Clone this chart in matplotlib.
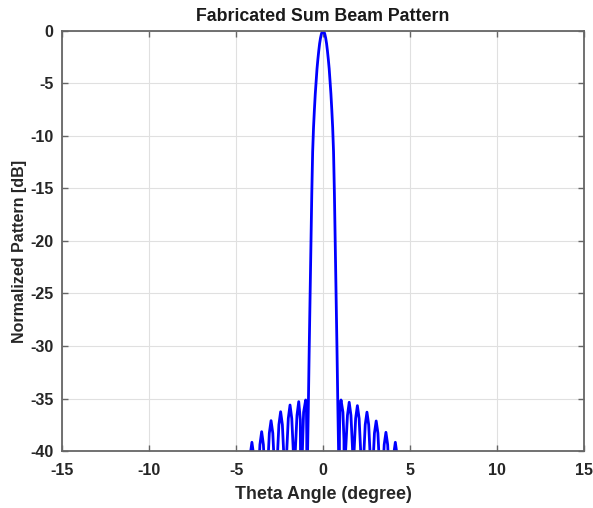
import matplotlib
matplotlib.use('Agg')
import matplotlib.pyplot as plt

# curve (degrees, dB); nulls drop below the -40 floor
theta = [-15.0, -4.36,
         -4.29, -4.19, -4.09, -3.99, -3.89, -3.81,
         -3.73, -3.63, -3.53, -3.43, -3.33, -3.26,
         -3.19, -3.09, -2.99, -2.89, -2.79, -2.71,
         -2.64, -2.54, -2.44, -2.34, -2.24, -2.17,
         -2.10, -2.00, -1.90, -1.80, -1.70, -1.65,
         -1.60, -1.50, -1.40, -1.31, -1.24,
         -1.20, -1.12, -1.00, -0.96, -0.94, -0.92,
         -0.90, -0.85, -0.80, -0.75, -0.70, -0.65, -0.60, -0.55, -0.50,
         -0.45, -0.40, -0.35, -0.30, -0.25, -0.20, -0.15, -0.10, -0.05, 0.00,
         0.05, 0.10, 0.15, 0.20, 0.25, 0.30, 0.35, 0.40, 0.45, 0.50,
         0.55, 0.60, 0.65, 0.70, 0.75, 0.80, 0.85, 0.90,
         0.92, 0.94, 0.97, 1.03, 1.14, 1.20, 1.25,
         1.29, 1.40, 1.50, 1.60, 1.70, 1.74,
         1.77, 1.87, 1.97, 2.07, 2.17, 2.24,
         2.32, 2.42, 2.52, 2.62, 2.72, 2.78,
         2.85, 2.95, 3.05, 3.15, 3.25, 3.33,
         3.41, 3.51, 3.61, 3.71, 3.81, 3.88,
         3.95, 4.05, 4.15, 4.25, 4.35, 4.42,
         15.0]
level_db = [-60.0, -55.0,
            -43.9, -40.4, -39.17, -40.4, -43.9, -55.0,
            -42.9, -39.4, -38.16, -39.4, -42.9, -55.0,
            -41.8, -38.3, -37.11, -38.3, -41.8, -55.0,
            -41.0, -37.5, -36.26, -37.5, -41.0, -55.0,
            -40.4, -36.9, -35.62, -36.9, -40.4, -55.0,
            -40.1, -36.6, -35.30, -37.0, -55.0,
            -40.5, -36.3, -35.14, -35.8, -38.5, -55.0,
            -41.0, -36.0, -30.5, -25.5, -20.5, -15.5, -11.5, -9.2, -7.5,
            -6.0, -4.8, -3.6, -2.7, -1.9, -1.2, -0.68, -0.3, -0.07, 0.0,
            -0.07, -0.3, -0.68, -1.2, -1.9, -2.7, -3.6, -4.8, -6.0, -7.5,
            -9.2, -11.5, -15.5, -20.5, -25.5, -30.5, -36.0, -41.0,
            -55.0, -38.5, -35.8, -35.14, -36.3, -39.0, -55.0,
            -40.1, -36.6, -35.36, -36.6, -40.1, -55.0,
            -40.4, -36.9, -35.68, -36.9, -40.4, -55.0,
            -41.0, -37.5, -36.30, -37.5, -41.0, -55.0,
            -41.8, -38.3, -37.14, -38.3, -41.8, -55.0,
            -42.9, -39.4, -38.22, -39.4, -42.9, -55.0,
            -43.9, -40.4, -39.17, -40.4, -43.9, -55.0,
            -60.0]

x_ticks = [-15, -10, -5, 0, 5, 10, 15]
y_ticks = [0, -5, -10, -15, -20, -25, -30, -35, -40]

plt.rcParams['font.family'] = ['Liberation Sans', 'DejaVu Sans']
plt.rcParams['font.weight'] = 'bold'

fig = plt.figure(figsize=(5.93, 5.08), dpi=100)
ax = fig.add_axes([0.1046, 0.1122, 0.8805, 0.8268])
ax.plot(theta, level_db, color='#0000ff', linewidth=2.0)

ax.set_xlim(-15, 15)
ax.set_ylim(-40, 0)
ax.set_xticks(x_ticks)
ax.set_yticks(y_ticks)
ax.set_xticklabels([str(t) for t in x_ticks])
ax.set_yticklabels([str(t) for t in y_ticks])
ax.tick_params(direction='in', top=True, right=True, labelsize=11.5,
               labelcolor='#262626', color='#666666', length=4, width=1.0)
ax.tick_params(axis='x', pad=8.5)
ax.tick_params(axis='y', pad=6)
ax.grid(True, color='#e0e0e0', linewidth=0.8)
for side in ax.spines.values():
    side.set_color('#666666')
    side.set_linewidth(1.3)

ax.set_title('Fabricated Sum Beam Pattern', fontsize=12.8, fontweight='bold',
             pad=7, color='#1a1a1a')
ax.set_xlabel('Theta Angle (degree)', fontsize=12.8, fontweight='bold', color='#262626')
ax.set_ylabel('Normalized Pattern [dB]', fontsize=11.5, fontweight='bold', color='#262626')
ax.xaxis.set_label_coords(0.5, -0.084)
ax.yaxis.set_label_coords(-0.067, 0.474)

fig.savefig('out.png', dpi=100)
